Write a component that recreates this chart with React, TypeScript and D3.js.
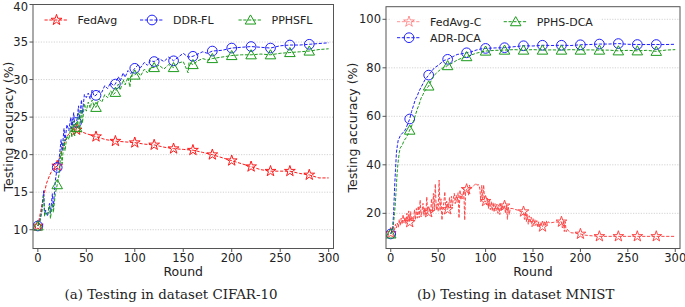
import React from 'react';
import * as d3 from 'd3';

type Pt = [number, number];

const roundTicks = [0, 50, 100, 150, 200, 250, 300];
const cifarTicks = [10, 15, 20, 25, 30, 35, 40];
const mnistTicks = [20, 40, 60, 80, 100];

const fedAvg: Pt[] = [
  [0, 10.5], [3, 12.5], [6, 14.5], [9, 16.2], [12, 17.2], [15, 18.0], [18, 18.3], [20, 18.5],
  [22, 19.3], [25, 20.6], [28, 21.8], [31, 22.6], [34, 23.1], [37, 23.3], [40, 23.3], [43, 23.1],
  [46, 23.0], [50, 22.8], [55, 22.6], [60, 22.4], [65, 22.2], [70, 22.0], [75, 21.9], [80, 21.8],
  [90, 21.7], [100, 21.6], [110, 21.4], [120, 21.3], [130, 21.0], [140, 20.8], [150, 20.7],
  [160, 20.6], [170, 20.3], [180, 20.0], [190, 19.6], [200, 19.2], [210, 18.8], [220, 18.4],
  [230, 18.0], [240, 17.8], [250, 17.8], [260, 17.8], [270, 17.5], [280, 17.3], [290, 16.9], [300, 16.9],
];

const ddrFl: Pt[] = [
  [0, 10.5], [2, 11.2], [4, 12.5], [6, 15.2], [7, 12.0], [8, 12.6], [10, 11.8], [12, 13.5], [13, 12.2],
  [15, 14.8], [16, 13.0], [18, 16.5], [20, 18.3], [22, 19.5], [24, 22.0], [25, 20.5], [27, 23.5],
  [28, 21.8], [30, 24.0], [32, 23.2], [34, 25.0], [35, 23.5], [37, 25.6], [38, 24.0], [40, 24.3],
  [42, 26.5], [43, 24.8], [45, 27.3], [46, 25.5], [48, 28.0], [50, 27.6], [52, 28.2], [54, 27.4],
  [56, 28.6], [58, 27.8], [60, 27.9], [63, 28.5], [66, 28.3], [69, 29.2], [72, 28.8], [75, 29.6],
  [78, 29.2], [80, 29.4], [83, 30.4], [85, 29.8], [88, 30.9], [90, 30.3], [93, 31.2], [96, 30.8],
  [100, 31.5], [103, 31.9], [106, 31.6], [110, 32.3], [113, 31.9], [116, 32.5], [120, 32.4],
  [125, 32.8], [130, 32.4], [135, 33.0], [140, 32.5], [145, 33.0], [150, 33.5], [155, 33.0],
  [160, 33.1], [165, 33.4], [170, 33.7], [175, 33.5], [180, 33.8], [190, 33.9], [200, 34.2],
  [210, 34.3], [220, 34.4], [230, 34.3], [240, 34.2], [250, 34.5], [260, 34.6], [270, 34.6],
  [280, 34.7], [290, 34.8], [300, 34.9],
];

const pphsfl: Pt[] = [
  [0, 10.5], [2, 11.0], [4, 12.3], [6, 14.5], [7, 11.8], [8, 12.3], [10, 12.0], [12, 13.2], [13, 11.5],
  [15, 13.5], [16, 12.3], [18, 14.8], [20, 16.0], [22, 17.5], [24, 20.5], [25, 18.8], [27, 22.0],
  [28, 20.5], [30, 22.5], [32, 22.0], [34, 23.8], [35, 22.3], [37, 24.5], [38, 22.5], [40, 23.6],
  [42, 25.5], [43, 23.0], [45, 26.0], [46, 24.2], [48, 26.8], [50, 25.8], [52, 27.0], [54, 26.2],
  [56, 27.3], [58, 26.5], [60, 26.3], [63, 27.4], [66, 27.0], [69, 28.0], [72, 27.6], [75, 28.5],
  [78, 28.0], [80, 28.3], [83, 29.4], [85, 28.6], [88, 30.0], [90, 29.3], [93, 30.3], [95, 29.0],
  [96, 30.4], [100, 30.6], [103, 31.0], [106, 30.5], [110, 31.4], [113, 30.9], [116, 31.6],
  [120, 31.6], [125, 31.9], [130, 31.4], [135, 32.0], [140, 31.6], [145, 32.2], [150, 32.4],
  [155, 30.9], [156, 32.3], [160, 32.0], [165, 32.5], [170, 32.8], [175, 32.6], [180, 32.8],
  [190, 33.0], [200, 33.2], [210, 33.3], [220, 33.3], [230, 33.4], [240, 33.3], [250, 33.5],
  [260, 33.6], [270, 33.7], [280, 33.8], [290, 34.0], [300, 34.1],
];

const fedAvgC: Pt[] = [
  [0, 11.8], [2, 13.0], [3, 14.5], [4, 13.2], [5, 15.5], [6, 14.0], [7, 16.0], [8, 14.3], [9, 17.5],
  [10, 15.0], [11, 18.0], [12, 15.5], [13, 19.5], [14, 16.0], [15, 18.5], [16, 15.8], [17, 20.0],
  [18, 16.5], [19, 21.0], [20, 16.3], [21, 20.7], [22, 17.0], [23, 18.5], [24, 16.8], [25, 21.5],
  [26, 17.5], [27, 22.0], [28, 18.0], [29, 23.0], [30, 18.2], [31, 25.5], [32, 18.5], [33, 21.0],
  [34, 24.1], [35, 19.0], [36, 22.5], [37, 19.5], [38, 26.8], [39, 19.8], [40, 20.4], [41, 22.0],
  [42, 20.0], [43, 26.0], [44, 20.5], [45, 28.2], [46, 21.0], [47, 32.1], [48, 21.5], [49, 24.0],
  [50, 20.8], [51, 33.7], [52, 21.0], [53, 26.0], [54, 17.2], [55, 22.0], [56, 24.5], [57, 28.9],
  [58, 21.5], [59, 25.0], [60, 21.6], [61, 23.0], [62, 26.5], [63, 22.0], [64, 27.0], [65, 23.0],
  [66, 26.0], [67, 28.2], [68, 24.0], [69, 27.5], [70, 24.5], [71, 28.5], [72, 18.0], [73, 29.6],
  [74, 25.5], [75, 28.0], [76, 26.0], [77, 30.3], [78, 17.2], [79, 29.0], [80, 29.9], [81, 30.2],
  [82, 27.5], [83, 31.7], [84, 30.0], [86, 31.0], [88, 31.5], [90, 32.4], [91, 31.6], [92, 31.8],
  [93, 31.7], [94, 30.0], [95, 24.8], [96, 31.5], [97, 25.5], [98, 31.7], [99, 24.8], [100, 25.0],
  [101, 23.5], [102, 26.5], [103, 22.0], [104, 25.0], [105, 21.5], [106, 24.8], [107, 21.0],
  [108, 24.5], [109, 20.5], [110, 24.0], [111, 21.0], [112, 23.8], [113, 20.0], [114, 23.5],
  [115, 19.5], [116, 24.0], [117, 21.5], [118, 23.5], [119, 22.0], [120, 23.1], [121, 20.0],
  [122, 23.5], [123, 17.5], [124, 22.5], [125, 19.5], [126, 22.0], [128, 22.0], [130, 21.8],
  [132, 21.5], [134, 21.3], [136, 21.0], [138, 20.8], [140, 20.7], [141, 17.5], [142, 20.5],
  [143, 16.5], [144, 19.5], [145, 15.5], [146, 19.0], [147, 16.0], [148, 18.5], [149, 14.5],
  [150, 18.0], [151, 14.8], [152, 17.5], [153, 15.0], [154, 17.0], [155, 14.5], [156, 16.5],
  [157, 14.0], [158, 16.2], [159, 14.5], [160, 14.5], [161, 15.5], [162, 16.5], [163, 15.0],
  [164, 17.0], [165, 15.5], [166, 16.5], [168, 16.0], [170, 16.2], [172, 16.3], [174, 16.5],
  [176, 16.3], [178, 16.6], [180, 16.5], [181, 14.0], [182, 17.0], [183, 12.5], [184, 16.5],
  [185, 12.4], [186, 13.5], [188, 12.5], [190, 12.0], [195, 11.8], [200, 11.5], [205, 11.0],
  [210, 10.8], [220, 10.5], [240, 10.5], [260, 10.5], [280, 10.5], [300, 10.5],
];

const adrDca: Pt[] = [
  [0, 11.5], [2, 14.0], [3, 20.0], [4, 30.0], [5, 38.0], [6, 45.0], [7, 48.0], [8, 50.5], [9, 51.0],
  [10, 52.0], [12, 53.0], [14, 53.5], [16, 55.0], [18, 57.0], [20, 58.9], [22, 62.0], [24, 64.5],
  [26, 67.0], [28, 68.5], [30, 70.5], [32, 72.0], [34, 73.5], [36, 75.0], [38, 76.0], [40, 77.0],
  [43, 78.5], [46, 80.0], [50, 81.0], [53, 82.0], [56, 83.0], [60, 83.5], [65, 84.5], [70, 85.5],
  [75, 85.8], [80, 86.2], [85, 86.6], [90, 87.3], [95, 87.8], [100, 88.0], [110, 88.2], [120, 88.3],
  [130, 88.7], [140, 89.1], [150, 89.0], [160, 89.3], [170, 89.2], [180, 89.3], [190, 89.2],
  [200, 89.5], [210, 89.6], [220, 89.8], [230, 89.8], [240, 90.0], [250, 89.7], [260, 89.6],
  [270, 89.6], [280, 89.6], [290, 89.6], [300, 89.7],
];

const pphsDca: Pt[] = [
  [0, 11.5], [2, 12.5], [4, 20.0], [5, 25.0], [6, 32.0], [7, 38.0], [8, 42.0], [9, 45.0], [10, 47.0],
  [12, 48.0], [14, 50.0], [16, 51.0], [18, 52.5], [20, 54.3], [22, 56.0], [24, 58.0], [26, 60.5],
  [28, 63.0], [30, 65.0], [32, 67.5], [34, 69.0], [36, 70.5], [38, 71.5], [40, 72.5], [43, 75.0],
  [46, 77.0], [50, 78.5], [53, 79.5], [56, 80.2], [60, 80.9], [65, 82.0], [70, 83.2], [75, 84.0],
  [80, 84.6], [85, 85.3], [90, 86.0], [95, 86.5], [100, 86.9], [110, 87.2], [120, 87.3],
  [130, 87.5], [140, 87.3], [150, 87.5], [160, 87.3], [170, 87.4], [180, 87.3], [190, 87.5],
  [200, 87.3], [210, 87.4], [220, 87.3], [230, 87.3], [240, 87.0], [250, 87.2], [260, 87.0],
  [270, 87.2], [280, 86.8], [290, 87.3], [300, 87.5],
];

const RED = '#ff1a1a';
const BLUE = '#1f1fff';
const GREEN = '#1a9a1a';
const SANS = '"DejaVu Sans", sans-serif';
const SERIF = '"DejaVu Serif", serif';

type SymKind = 'star' | 'circle' | 'triangle';
interface Series { name: string; data: Pt[]; color: string; sym: SymKind; opacity?: number }

function symPath(kind: SymKind): string {
  if (kind === 'star') return d3.symbol(d3.symbolStar, 36)() as string;
  if (kind === 'circle') return d3.symbol(d3.symbolCircle, 74)() as string;
  return d3.symbol(d3.symbolTriangle, 48)() as string;
}

function Marker({ kind, x, y, color, opacity = 1 }: { kind: SymKind; x: number; y: number; color: string; opacity?: number }) {
  const dy = kind === 'triangle' ? 1 : 0;
  return <path d={symPath(kind)} transform={`translate(${x},${y + dy})`} fill="none" stroke={color} strokeWidth={1} opacity={opacity} />;
}

interface PanelProps {
  x0: number; x1: number; y0: number; y1: number;
  yDomain: [number, number]; yTicks: number[];
  series: Series[]; ylabelX: number; caption: string; captionX: number;
  legend: { name: string; color: string; sym: SymKind; hx: number; hy: number; opacity?: number }[];
  legendBox?: [number, number, number, number];
}

function Panel(p: PanelProps) {
  const xs = d3.scaleLinear().domain([-5, 305]).range([p.x0, p.x1]);
  const ys = d3.scaleLinear().domain(p.yDomain).range([p.y1, p.y0]);
  const line = d3.line<Pt>().x(d => xs(d[0])).y(d => ys(d[1]));
  const axisColor = '#555';
  const clipId = `clip-${Math.round(p.x0)}`;
  return (
    <g>
      <defs>
        <clipPath id={clipId}><rect x={p.x0} y={p.y0} width={p.x1 - p.x0} height={p.y1 - p.y0} /></clipPath>
      </defs>
      <rect x={p.x0} y={p.y0} width={p.x1 - p.x0} height={p.y1 - p.y0} fill="#fff" />
      {p.yTicks.map(t => (
        <line key={`g${t}`} x1={p.x0} x2={p.x1} y1={ys(t)} y2={ys(t)} stroke="#c8c8c8" strokeWidth={0.8} strokeDasharray="1.2,1.4" />
      ))}
      {p.legendBox && (
        <rect x={p.legendBox[0]} y={p.legendBox[1]} width={p.legendBox[2]} height={p.legendBox[3]} fill="#fff" opacity={0.85} />
      )}
      <g clipPath={`url(#${clipId})`}>
        {p.series.map(s => (
          <g key={s.name} opacity={s.opacity ?? 1}>
            <path d={line(s.data) as string} fill="none" stroke={s.color} strokeWidth={1} strokeDasharray="3.2,1.6" />
            {s.data.filter(d => d[0] % 20 === 0 && d[0] < 300).map(d => (
              <Marker key={d[0]} kind={s.sym} x={xs(d[0])} y={ys(d[1])} color={s.color} />
            ))}
          </g>
        ))}
      </g>
      <rect x={p.x0} y={p.y0} width={p.x1 - p.x0} height={p.y1 - p.y0} fill="none" stroke={axisColor} strokeWidth={1} />
      {p.yTicks.map(t => (
        <g key={`y${t}`}>
          <line x1={p.x0 - 3.5} x2={p.x0} y1={ys(t)} y2={ys(t)} stroke={axisColor} />
          <text x={p.x0 - 5} y={Math.max(ys(t), 6.5)} dy="0.36em" textAnchor="end" fontFamily={SANS} fontSize={11.5} fill="#222">{t}</text>
        </g>
      ))}
      {roundTicks.map(t => (
        <g key={`x${t}`}>
          <line x1={xs(t)} x2={xs(t)} y1={p.y1} y2={p.y1 + 3.5} stroke={axisColor} />
          <text x={xs(t)} y={p.y1 + 13} textAnchor="middle" fontFamily={SANS} fontSize={11.5} fill="#222">{t}</text>
        </g>
      ))}
      <text x={(p.x0 + p.x1) / 2} y={p.y1 + 27} textAnchor="middle" fontFamily={SANS} fontSize={12.5} fill="#222">Round</text>
      <text transform={`translate(${p.ylabelX},${(p.y0 + p.y1) / 2}) rotate(-90)`} textAnchor="middle" dy="0.36em" fontFamily={SANS} fontSize={12.5} fill="#222">Testing accuracy (%)</text>
      {p.legend.map(l => (
        <g key={l.name}>
          <line x1={l.hx - 12} x2={l.hx + 12} y1={l.hy} y2={l.hy} stroke={l.color} strokeWidth={1} strokeDasharray="3.2,1.6" opacity={l.opacity ?? 1} />
          <Marker kind={l.sym} x={l.hx} y={l.hy} color={l.color} opacity={l.opacity ?? 1} />
          <text x={l.hx + 21} y={l.hy} dy="0.36em" fontFamily={SANS} fontSize={11} fill="#222">{l.name}</text>
        </g>
      ))}
      <text x={p.captionX} y={299} textAnchor="middle" fontFamily={SERIF} fontSize={13.4} fill="#222">{p.caption}</text>
    </g>
  );
}

export default function App() {
  const leftSeries: Series[] = [
    { name: 'FedAvg', data: fedAvg, color: RED, sym: 'star' },
    { name: 'DDR-FL', data: ddrFl, color: BLUE, sym: 'circle' },
    { name: 'PPHSFL', data: pphsfl, color: GREEN, sym: 'triangle' },
  ];
  const rightSeries: Series[] = [
    { name: 'FedAvg-C', data: fedAvgC, color: RED, sym: 'star', opacity: 0.8 },
    { name: 'ADR-DCA', data: adrDca, color: BLUE, sym: 'circle' },
    { name: 'PPHS-DCA', data: pphsDca, color: GREEN, sym: 'triangle' },
  ];
  return (
    <svg width={685} height={307} style={{ position: 'fixed', left: 0, top: 0, background: '#fff' }}>
      <rect width={685} height={307} fill="#fff" />
      <Panel
        x0={33} x1={333.5} y0={4.5} y1={248.5}
        yDomain={[7.5, 40]} yTicks={cifarTicks}
        series={leftSeries} ylabelX={8}
        caption="(a) Testing in dataset CIFAR-10" captionX={171}
        legend={[
          { name: 'FedAvg', color: RED, sym: 'star', hx: 56.5, hy: 20 },
          { name: 'DDR-FL', color: BLUE, sym: 'circle', hx: 152, hy: 20 },
          { name: 'PPHSFL', color: GREEN, sym: 'triangle', hx: 250.5, hy: 20 },
        ]}
      />
      <Panel
        x0={386} x1={680} y0={6.7} y1={248.5}
        yDomain={[5.5, 105.2]} yTicks={mnistTicks}
        series={rightSeries} ylabelX={352}
        caption="(b) Testing in dataset MNIST" captionX={515.7}
        legendBox={[391, 10, 210, 38]}
        legend={[
          { name: 'FedAvg-C', color: RED, sym: 'star', hx: 409, hy: 21.7, opacity: 0.45 },
          { name: 'ADR-DCA', color: BLUE, sym: 'circle', hx: 409, hy: 37.7 },
          { name: 'PPHS-DCA', color: GREEN, sym: 'triangle', hx: 515.7, hy: 21.7 },
        ]}
      />
    </svg>
  );
}
